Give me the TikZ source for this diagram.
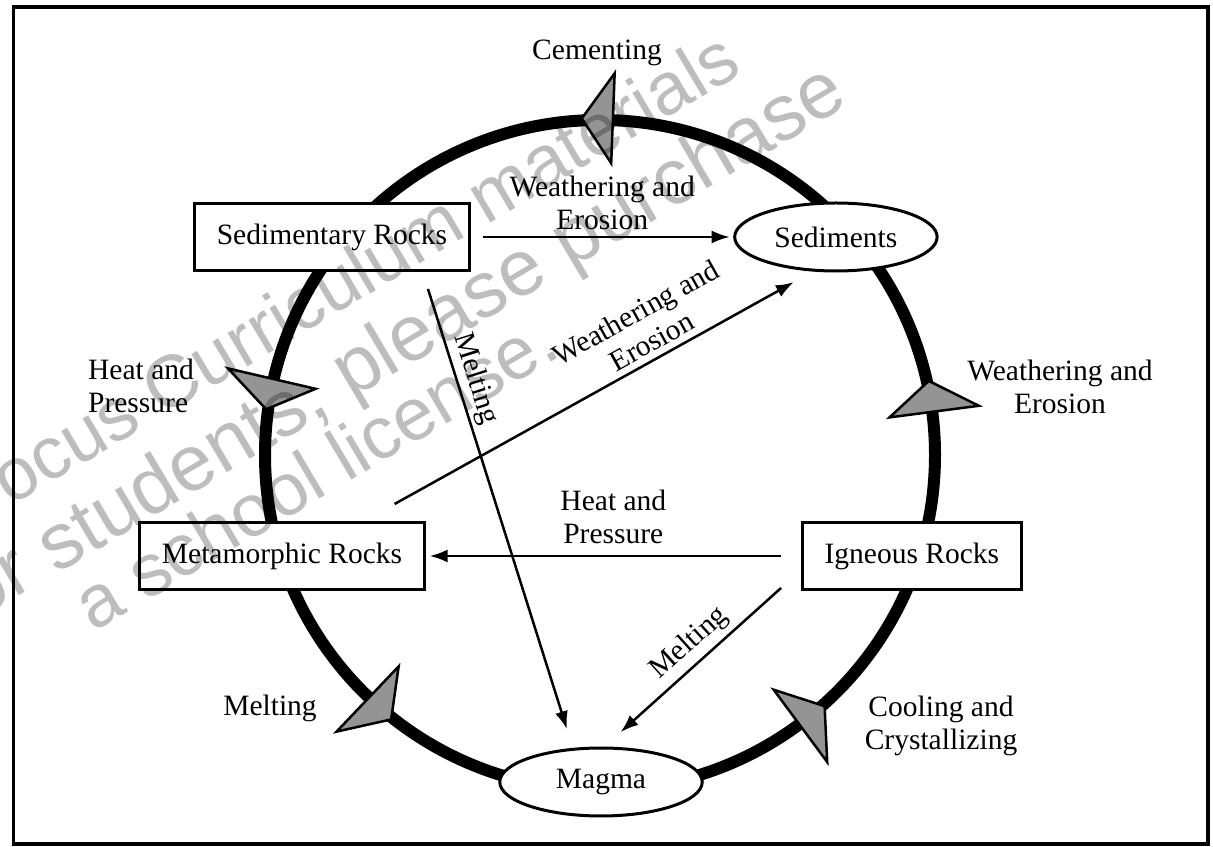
\documentclass[tikz,border=0pt]{standalone}
\usepackage{fontspec}
\setmainfont{Liberation Serif}
\setsansfont{Liberation Sans}
\usepackage{tikz}
\usetikzlibrary{arrows.meta}
\usetikzlibrary{shapes.geometric,positioning,calc}

\tikzset{
  rock/.style={draw, line width=0.06cm, fill=white, rectangle, minimum height=1.34cm, inner xsep=0.45cm},
  loose/.style={draw, line width=0.06cm, fill=white, ellipse, minimum width=4.05cm, minimum height=1.36cm, inner sep=0pt},
  flow/.style={line width=0.05cm, -{Latex[length=0.36cm,width=0.26cm]}},
  cyclemark/.style={draw, line width=0.05cm, fill=black!42, line join=miter},
  stage/.style={align=center},
  wmark/.style={anchor=base west, rotate=30.6, inner sep=0pt}
}

\begin{document}
\begin{tikzpicture}[x=0.02cm, y=0.02cm, font=\fontsize{16.8}{18.8}\selectfont, shorten >=2pt, on grid]
  \useasboundingbox (0,0) rectangle (1213,847);
  \draw[line width=0.08cm] (13.5,2.5) rectangle (1208,839.5);

  % rock cycle ring
  \coordinate (c) at (600,392);
  \draw[line width=0.24cm] (c) circle[radius=335];
  \foreach \ang in {87.8,166.9,226.4,306.5,7.4}
    \draw[cyclemark] ($(c)+(\ang:292)$) -- ($(c)+(\ang:382)$) -- ($(c)+(\ang+5.3:337)$) -- cycle;

  \node[rock]  (metarock)  at (282,291)               {Metamorphic Rocks};
  \node[rock]  (ignrock)   [right=12.6cm of metarock]  {Igneous Rocks};
  \node[rock]  (sedrock)   at (332,610)               {Sedimentary Rocks};
  \node[loose] (sediments) [right=10.08cm of sedrock] {Sediments};
  \node[loose] (magma)     at (601,65)                {Magma};

  \node[stage]             (cementing)    at (597,794.5)  {Cementing};
  \node[stage,align=left]  (heatleft)     at (141,461.5)  {Heat and\\Pressure};
  \node[stage]             (weatherright) at (1060,460.5) {Weathering and\\Erosion};
  \node                    (meltleft)     at (270,139)    {Melting};
  \node[stage]             (cooling)      at (941,121.5)  {Cooling and\\Crystallizing};

  \path[flow]
    (sedrock) edge [shorten <=0.24cm]  node[above,align=center] {Weathering and\\Erosion} (sediments)
    (ignrock) edge [shorten <=0.4cm]   node[above=0.1cm,align=center] {Heat and\\Pressure} (metarock)
    ([xshift=-0.63cm,yshift=0.34cm]metarock.north east)
        edge node[pos=0.66,sloped,above,align=center] {Weathering and\\Erosion}
        ([xshift=-0.78cm,yshift=-0.16cm]sediments.south)
    ([xshift=1.92cm,yshift=-0.34cm]sedrock.south)
        edge node[pos=0.215,sloped,above,inner sep=2pt] {Melting}
        ([xshift=-0.66cm,yshift=0.28cm]magma.north)
    ([xshift=-0.39cm,yshift=0.06cm]ignrock.south west)
        edge node[pos=0.48,sloped,above,inner sep=3pt] {Melting}
        ([xshift=0.34cm,yshift=0.24cm]magma.north)
  ;

  % watermark
  \begin{scope}[opacity=0.26, font=\sffamily\fontsize{42}{42}\selectfont]
    \node[wmark] (wmA) at (-29,317)   {Focus Curriculum materials};
    \node[wmark,font=\sffamily\fontsize{45}{45}\selectfont] (wmB) at (-42.5,214.5) {for students, please purchase};
    \node[wmark] (wmC) at (93,214)    {a school license.};
  \end{scope}
\end{tikzpicture}
\end{document}
